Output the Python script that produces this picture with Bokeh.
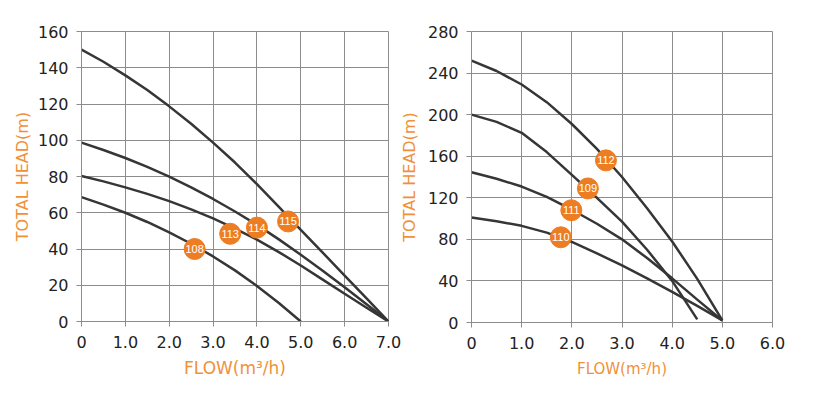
from bokeh.plotting import figure
from bokeh.layouts import row
from bokeh.models import Range1d, FixedTicker
from bokeh.core.properties import value
from bokeh.embed import file_html
from bokeh.resources import INLINE

# ---------------- data: left chart ----------------
L_flow_7 = [0, 0.5, 1, 1.5, 2, 2.5, 3, 3.5, 4, 4.5, 5, 5.5, 6, 6.5, 7]
L_flow_5 = [0, 0.5, 1, 1.5, 2, 2.5, 3, 3.5, 4, 4.5, 5]
L_head_115 = [150, 143.3, 135.8, 127.7, 118.7, 109.1, 98.7, 87.7, 75.8, 63.3, 50.6, 38, 25.3, 12.7, 0]
L_head_114 = [98.7, 94.6, 90.2, 85.3, 79.9, 74.0, 67.6, 60.7, 53.3, 45.3, 36.8, 28.0, 18.9, 9.5, 0]
L_head_113 = [80.3, 77.3, 74.0, 70.4, 66.4, 61.9, 56.9, 51.3, 45.2, 38.3, 30.9, 23.1, 15.3, 7.6, 0]
L_head_108 = [68.6, 64.5, 60.0, 54.9, 49.2, 42.9, 35.9, 28.2, 19.6, 10.2, 0]
L_tag_names = ["108", "113", "114", "115"]
L_tag_flow = [2.58, 3.39, 4.0, 4.71]
L_tag_head = [40, 48.4, 51.8, 55.2]
L_xticks = [0, 1, 2, 3, 4, 5, 6, 7]
L_xlabels = ["0", "1.0", "2.0", "3.0", "4.0", "5.0", "6.0", "7.0"]
L_yticks = [0, 20, 40, 60, 80, 100, 120, 140, 160]

# ---------------- data: right chart ----------------
R_flow_5 = [0, 0.5, 1, 1.5, 2, 2.5, 3, 3.5, 4, 4.5, 5]
R_flow_45 = [0, 0.5, 1, 1.5, 2, 2.5, 3, 3.5, 4, 4.5]
R_head_112 = [252, 242, 229, 212, 191, 167, 140, 110, 78, 42, 2]
R_head_109 = [200, 193, 182.5, 164, 142, 120, 97, 70, 40, 3]
R_head_111 = [144.6, 138.3, 130.8, 120.8, 108.5, 95, 80, 62, 42.5, 22, 2]
R_head_110 = [101, 97.5, 93, 86.5, 77.5, 66.5, 55, 42.5, 29.5, 16, 2]
R_tag_names = ["112", "109", "111", "110"]
R_tag_flow = [2.68, 2.32, 1.99, 1.78]
R_tag_head = [156, 129, 108, 82]
R_xticks = [0, 1, 2, 3, 4, 5, 6]
R_xlabels = ["0", "1.0", "2.0", "3.0", "4.0", "5.0", "6.0"]
R_yticks = [0, 40, 80, 120, 160, 200, 240, 280]

LINE_COLOR = "#363636"
GRID_COLOR = "#8c8c8c"
TAG_COLOR = "#ED7D23"
LABEL_COLOR = "#F0913A"


def make_fig(fw, fh, xmax, ymax, xticks, xlabels, yticks,
             mb_left, mb_right, mb_top, mb_bottom, xlab_size, xlab_standoff,
             ylab_standoff):
    p = figure(frame_width=fw, frame_height=fh, output_backend="svg",
               toolbar_location=None, x_range=Range1d(0, xmax),
               y_range=Range1d(0, ymax),
               min_border_left=mb_left, min_border_right=mb_right,
               min_border_top=mb_top, min_border_bottom=mb_bottom)
    p.outline_line_color = GRID_COLOR
    p.outline_line_width = 1
    p.background_fill_color = "white"
    p.border_fill_color = None
    for g in (p.xgrid, p.ygrid):
        g.grid_line_color = GRID_COLOR
        g.grid_line_width = 1
    p.xaxis.ticker = FixedTicker(ticks=xticks)
    p.xaxis.major_label_overrides = {t: l for t, l in zip(xticks, xlabels)}
    p.yaxis.ticker = FixedTicker(ticks=yticks)
    for ax in (p.xaxis, p.yaxis):
        ax.axis_line_color = GRID_COLOR
        ax.major_tick_line_color = GRID_COLOR
        ax.major_tick_out = 5
        ax.major_tick_in = 0
        ax.minor_tick_line_color = None
        ax.major_label_text_font = "DejaVu Sans"
        ax.major_label_text_font_size = "16px"
        ax.major_label_text_color = "#222222"
        ax.axis_label_text_font = "DejaVu Sans"
        ax.axis_label_text_font_style = "normal"
        ax.axis_label_text_color = LABEL_COLOR
    p.xaxis.major_label_standoff = 9
    p.yaxis.major_label_standoff = 8
    p.xaxis.axis_label = "FLOW(m³/h)"
    p.xaxis.axis_label_text_font_size = xlab_size
    p.xaxis.axis_label_standoff = xlab_standoff
    p.yaxis.axis_label = "TOTAL HEAD(m)"
    p.yaxis.axis_label_text_font_size = "16px"
    p.yaxis.axis_label_standoff = ylab_standoff
    return p


def add_tags(p, xs, ys, names):
    p.scatter(xs, ys, size=21, marker="circle", fill_color=TAG_COLOR,
              line_color=TAG_COLOR, line_width=1)
    p.text(xs, ys, text=names, text_color="white",
           text_font=value("Liberation Sans"), text_font_size="11px",
           text_align="center", text_baseline="middle")


left = make_fig(307, 290, 7, 160, L_xticks, L_xlabels, L_yticks,
                81, 13, 31, 66, "17px", 7, 3)
for hs, fs in ((L_head_115, L_flow_7), (L_head_114, L_flow_7),
               (L_head_113, L_flow_7), (L_head_108, L_flow_5)):
    left.line(fs, hs, line_color=LINE_COLOR, line_width=2.5)
add_tags(left, L_tag_flow, L_tag_head, L_tag_names)

right = make_fig(301, 291, 6, 280, R_xticks, R_xlabels, R_yticks,
                 69, 20, 31, 66, "15px", 8, 6)
right.margin = (0, 0, 0, -5)
for hs, fs in ((R_head_112, R_flow_5), (R_head_109, R_flow_45),
               (R_head_111, R_flow_5), (R_head_110, R_flow_5)):
    right.line(fs, hs, line_color=LINE_COLOR, line_width=2.5)
add_tags(right, R_tag_flow, R_tag_head, R_tag_names)

layout = row(left, right, spacing=0)
open("out.html", "w").write(file_html(layout, INLINE))
